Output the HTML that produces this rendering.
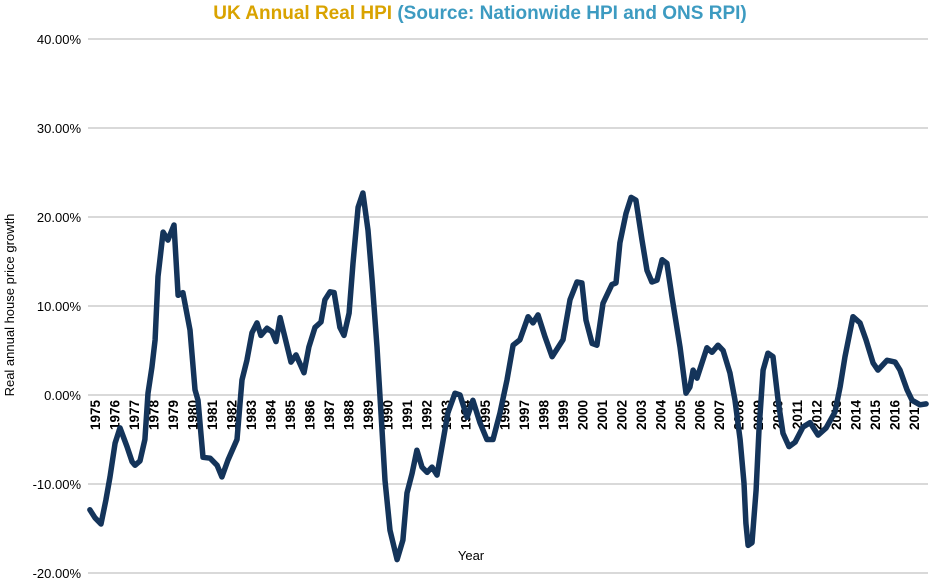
<!DOCTYPE html>
<html><head><meta charset="utf-8"><style>
body{margin:0;background:#fff;}
svg{display:block;font-family:"Liberation Sans",sans-serif;}
</style></head><body>
<svg id="chart" width="930" height="581" viewBox="0 0 930 581">
<text x="480" y="19" text-anchor="middle" font-size="19" font-weight="bold"><tspan fill="#d9a300">UK Annual Real HPI </tspan><tspan fill="#3d9bc1">(Source: Nationwide HPI and ONS RPI)</tspan></text>
<text transform="translate(14,305) rotate(-90)" text-anchor="middle" font-size="13" fill="#000">Real annual house price growth</text>
<text x="471" y="560" text-anchor="middle" font-size="13" fill="#000">Year</text>
<g id="grid"></g><g id="xlab"></g><g id="series"></g>
</svg>
<script>
const yTicks=[40,30,20,10,0,-10,-20];
const yTickLabels=["40.00%","30.00%","20.00%","10.00%","0.00%","-10.00%","-20.00%"];
const years=[1975,1976,1977,1978,1979,1980,1981,1982,1983,1984,1985,1986,1987,1988,1989,1990,1991,1992,1993,1994,1995,1996,1997,1998,1999,2000,2001,2002,2003,2004,2005,2006,2007,2008,2009,2010,2011,2012,2013,2014,2015,2016,2017];
const dates=[1974.74,1975.0,1975.31,1975.56,1975.77,1976.03,1976.28,1976.64,1976.9,1977.05,1977.31,1977.56,1977.72,1977.92,1978.08,1978.23,1978.49,1978.74,1979.05,1979.26,1979.51,1979.87,1980.13,1980.28,1980.54,1980.9,1981.26,1981.51,1981.82,1982.28,1982.54,1982.79,1983.05,1983.31,1983.51,1983.82,1984.08,1984.28,1984.49,1984.74,1985.05,1985.31,1985.72,1985.97,1986.28,1986.59,1986.79,1987.05,1987.26,1987.56,1987.77,1988.03,1988.23,1988.49,1988.74,1989.0,1989.21,1989.46,1989.72,1989.87,1990.13,1990.49,1990.79,1991.0,1991.26,1991.51,1991.77,1992.03,1992.28,1992.54,1992.85,1993.1,1993.46,1993.72,1994.08,1994.38,1994.74,1995.1,1995.41,1995.77,1996.13,1996.44,1996.79,1997.21,1997.46,1997.72,1998.08,1998.44,1999.0,1999.36,1999.72,1999.97,2000.18,2000.49,2000.74,2001.05,2001.51,2001.72,2001.92,2002.23,2002.49,2002.74,2003.05,2003.31,2003.56,2003.82,2004.08,2004.33,2004.59,2005.0,2005.31,2005.51,2005.67,2005.87,2006.38,2006.64,2006.95,2007.21,2007.56,2007.82,2008.08,2008.28,2008.38,2008.49,2008.69,2008.9,2009.05,2009.26,2009.51,2009.77,2010.03,2010.28,2010.59,2010.9,2011.31,2011.67,2012.08,2012.49,2012.95,2013.21,2013.46,2013.87,2014.23,2014.54,2014.9,2015.15,2015.62,2016.03,2016.28,2016.64,2016.9,2017.31,2017.62];
const growth=[-12.9,-13.8,-14.5,-11.8,-9.2,-5.4,-3.7,-5.8,-7.5,-7.9,-7.4,-5.0,0.2,3.1,6.2,13.3,18.3,17.4,19.1,11.2,11.5,7.3,0.6,-0.6,-7.0,-7.1,-7.9,-9.2,-7.3,-5.0,1.7,3.9,7.0,8.1,6.7,7.5,7.1,6.0,8.7,6.5,3.7,4.5,2.5,5.4,7.6,8.2,10.7,11.6,11.5,7.6,6.7,9.2,14.8,21.1,22.7,18.5,12.9,5.4,-3.9,-9.6,-15.2,-18.5,-16.3,-11.0,-8.8,-6.2,-8.1,-8.7,-8.1,-9.0,-5.1,-2.0,0.2,0.0,-2.5,-0.6,-3.1,-5.0,-5.0,-2.0,1.7,5.6,6.2,8.8,8.1,9.0,6.5,4.3,6.2,10.7,12.7,12.6,8.4,5.8,5.6,10.3,12.4,12.6,17.1,20.4,22.2,21.9,17.4,14.0,12.7,12.9,15.2,14.8,11.0,5.4,0.2,0.9,2.8,1.9,5.3,4.8,5.6,5.0,2.5,-0.6,-5.0,-9.9,-14.4,-16.9,-16.6,-10.7,-3.9,2.8,4.7,4.3,-0.6,-4.3,-5.8,-5.3,-3.6,-3.1,-4.5,-3.7,-1.9,0.9,4.3,8.8,8.1,6.2,3.6,2.8,3.9,3.7,2.8,0.6,-0.6,-1.1,-1.0];
const NS="http://www.w3.org/2000/svg";
function xs(t){return 95+19.5*(t-1975);}
function ys(v){return 395-8.9*v;}
function mk(tag,attrs,parent){const e=document.createElementNS(NS,tag);for(const k in attrs)e.setAttribute(k,attrs[k]);parent.appendChild(e);return e;}
const grid=document.getElementById('grid');
yTicks.forEach((v,i)=>{
  const l=mk('line',{x1:88,x2:928,y1:ys(v),y2:ys(v),stroke:'#d9d9d9','stroke-width':2},grid);
  
  
  const t=mk('text',{x:81,y:ys(v)+5,'text-anchor':'end','font-size':13,fill:'#000'},grid);
  t.textContent=yTickLabels[i];
  
  
});
const xl=document.getElementById('xlab');
years.forEach(y=>{
  const x=xs(y)+5;
  const t=mk('text',{transform:`translate(${x},400) rotate(-90)`,'text-anchor':'end','font-size':13.5,'font-weight':'bold',fill:'#000'},xl);
  t.textContent=y;
  
  
});
const d=dates.map((t,i)=>(i?'L':'M')+xs(t).toFixed(1)+' '+ys(growth[i]).toFixed(1)).join(' ');
const p=mk('path',{d:d,fill:'none',stroke:'#14345a','stroke-width':5.5,'stroke-linejoin':'round','stroke-linecap':'round'},document.getElementById('series'));


</script>
</body></html>
